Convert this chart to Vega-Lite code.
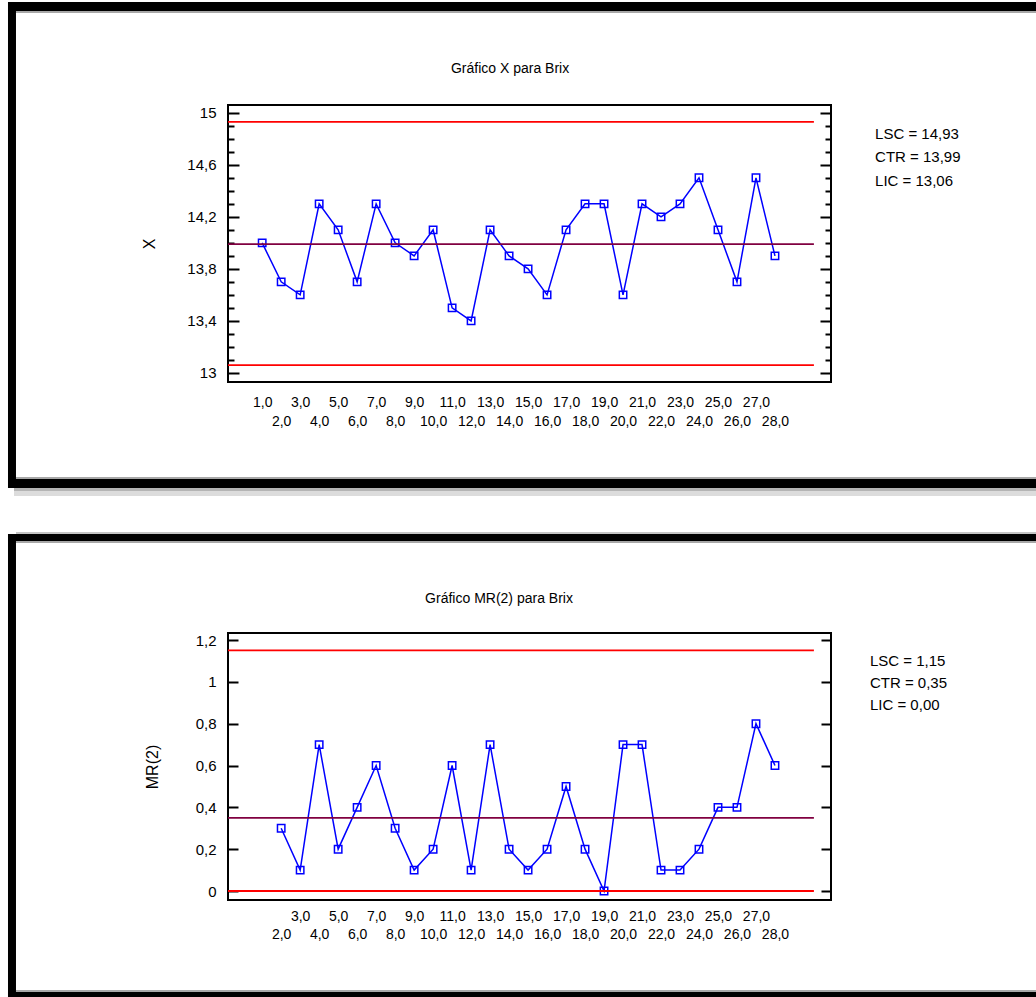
{
  "$schema": "https://vega.github.io/schema/vega-lite/v6.json",
  "padding": {"left": 6, "top": 1, "right": 0, "bottom": 0},
  "background": "white",
  "spacing": 33,
  "resolve": {"scale": {"x": "independent", "y": "independent", "color": "independent"}},
  "config": {
    "font": "Liberation Sans Narrow, Liberation Sans, sans-serif",
    "view": {"stroke": "black", "strokeWidth": 2},
    "axis": {"labelColor": "black", "titleColor": "black", "labelFontSize": 15, "titleFontSize": 16, "titleFontWeight": "normal", "tickColor": "black", "tickWidth": 2, "grid": false, "domain": false},
    "text": {"color": "black"}
  },
  "datasets": {
    "xdata": [
      {"i": 1, "x": 14.0}, {"i": 2, "x": 13.7}, {"i": 3, "x": 13.6}, {"i": 4, "x": 14.3}, {"i": 5, "x": 14.1},
      {"i": 6, "x": 13.7}, {"i": 7, "x": 14.3}, {"i": 8, "x": 14.0}, {"i": 9, "x": 13.9}, {"i": 10, "x": 14.1},
      {"i": 11, "x": 13.5}, {"i": 12, "x": 13.4}, {"i": 13, "x": 14.1}, {"i": 14, "x": 13.9}, {"i": 15, "x": 13.8},
      {"i": 16, "x": 13.6}, {"i": 17, "x": 14.1}, {"i": 18, "x": 14.3}, {"i": 19, "x": 14.3}, {"i": 20, "x": 13.6},
      {"i": 21, "x": 14.3}, {"i": 22, "x": 14.2}, {"i": 23, "x": 14.3}, {"i": 24, "x": 14.5}, {"i": 25, "x": 14.1},
      {"i": 26, "x": 13.7}, {"i": 27, "x": 14.5}, {"i": 28, "x": 13.9}
    ],
    "mrdata": [
      {"i": 2, "mr": 0.3}, {"i": 3, "mr": 0.1}, {"i": 4, "mr": 0.7}, {"i": 5, "mr": 0.2}, {"i": 6, "mr": 0.4},
      {"i": 7, "mr": 0.6}, {"i": 8, "mr": 0.3}, {"i": 9, "mr": 0.1}, {"i": 10, "mr": 0.2}, {"i": 11, "mr": 0.6},
      {"i": 12, "mr": 0.1}, {"i": 13, "mr": 0.7}, {"i": 14, "mr": 0.2}, {"i": 15, "mr": 0.1}, {"i": 16, "mr": 0.2},
      {"i": 17, "mr": 0.5}, {"i": 18, "mr": 0.2}, {"i": 19, "mr": 0.0}, {"i": 20, "mr": 0.7}, {"i": 21, "mr": 0.7},
      {"i": 22, "mr": 0.1}, {"i": 23, "mr": 0.1}, {"i": 24, "mr": 0.2}, {"i": 25, "mr": 0.4}, {"i": 26, "mr": 0.4},
      {"i": 27, "mr": 0.8}, {"i": 28, "mr": 0.6}
    ],
    "limx": [{"k": "LSC", "v": 14.93}, {"k": "CTR", "v": 13.99}, {"k": "LIC", "v": 13.06}],
    "limmr": [{"k": "LSC", "v": 1.15}, {"k": "CTR", "v": 0.35}, {"k": "LIC", "v": 0.0}]
  },
  "vconcat": [
    {
      "width": 603,
      "height": 277,
      "data": {"name": "xdata"},
      "resolve": {"axis": {"x": "independent", "y": "independent"}},
      "layer": [
        {"mark": {"type": "line", "color": "#0000ff", "strokeWidth": 1.5},
         "encoding": {
           "x": {"field": "i", "type": "quantitative", "scale": {"domain": [-0.8, 30.95], "nice": false, "zero": false},
                 "axis": {"orient": "bottom", "values": [1,2,3,4,5,6,7,8,9,10,11,12,13,14,15,16,17,18,19,20,21,22,23,24,25,26,27,28], "ticks": false, "title": null,
                          "labelExpr": "replace(format(datum.value, '.1f'), '.', ',')",
                          "labelPadding": {"condition": {"test": "datum.value % 2 == 0", "value": 32}, "value": 13},
                          "labelOverlap": false, "labelFontSize": 14, "labelAlign": "center", "labelBaseline": "top"}},
           "y": {"field": "x", "type": "quantitative", "scale": {"domain": [12.93, 15.06], "nice": false, "zero": false},
                 "axis": {"orient": "left", "title": "X", "titleX": -79, "titleY": 138.5, "titleAlign": "center", "titleBaseline": "middle", "titleAngle": -90,
                          "values": [13,13.1,13.2,13.3,13.4,13.5,13.6,13.7,13.8,13.9,14,14.1,14.2,14.3,14.4,14.5,14.6,14.7,14.8,14.9,15],
                          "tickSize": {"condition": {"test": "round(datum.value*10)%4==2", "value": -11}, "value": -6},
                          "labelExpr": "round(datum.value*10)%4==2 ? replace(toString(datum.value), '.', ',') : ''",
                          "labelPadding": 23, "labelOverlap": false, "labelBound": false}}
         }},
        {"data": {"values": [{}]}, "mark": {"type": "rect", "color": "black"},
         "encoding": {"x": {"datum": -12.384, "axis": null}, "x2": {"datum": 41.84}, "y": {"datum": 15.852, "axis": null}, "y2": {"datum": 15.7828}}},
        {"data": {"values": [{}]}, "mark": {"type": "rect", "color": "#a8a8a8"},
         "encoding": {"x": {"datum": -11.963, "axis": null}, "x2": {"datum": 41.84}, "y": {"datum": 15.7828, "axis": null}, "y2": {"datum": 15.7674}}},
        {"data": {"values": [{}]}, "mark": {"type": "rect", "color": "black"},
         "encoding": {"x": {"datum": -12.384, "axis": null}, "x2": {"datum": -11.963}, "y": {"datum": 15.852, "axis": null}, "y2": {"datum": 12.115}}},
        {"data": {"values": [{}]}, "mark": {"type": "rect", "color": "#a8a8a8"},
         "encoding": {"x": {"datum": -11.963, "axis": null}, "x2": {"datum": 41.84}, "y": {"datum": 12.1996, "axis": null}, "y2": {"datum": 12.1842}}},
        {"data": {"values": [{}]}, "mark": {"type": "rect", "color": "black"},
         "encoding": {"x": {"datum": -12.384, "axis": null}, "x2": {"datum": 41.84}, "y": {"datum": 12.1842, "axis": null}, "y2": {"datum": 12.115}}},
        {"data": {"values": [{}]}, "mark": {"type": "rect", "color": "#b4b4b4"},
         "encoding": {"x": {"datum": -12.068, "axis": null}, "x2": {"datum": 41.84}, "y": {"datum": 12.115, "axis": null}, "y2": {"datum": 12.0919}}},
        {"data": {"values": [{}]}, "mark": {"type": "rect", "color": "#dcdcdc"},
         "encoding": {"x": {"datum": -12.068, "axis": null}, "x2": {"datum": 41.84}, "y": {"datum": 12.0919, "axis": null}, "y2": {"datum": 12.0535}}},
        {"mark": {"type": "point", "shape": "square", "filled": false, "color": "#0000ff", "strokeWidth": 1.5, "size": 55, "opacity": 1},
         "encoding": {
           "x": {"field": "i", "type": "quantitative", "axis": null},
           "y": {"field": "x", "type": "quantitative",
                 "axis": {"orient": "right", "title": null, "labels": false,
                          "values": [13,13.1,13.2,13.3,13.4,13.5,13.6,13.7,13.8,13.9,14,14.1,14.2,14.3,14.4,14.5,14.6,14.7,14.8,14.9,15],
                          "tickSize": {"condition": {"test": "round(datum.value*10)%4==2", "value": -11}, "value": -6}}}
         }},
        {"data": {"name": "limx"}, "mark": {"type": "rule", "strokeWidth": 1.8},
         "encoding": {
           "x": {"datum": -0.8, "axis": null}, "x2": {"datum": 30.05},
           "y": {"field": "v", "type": "quantitative", "axis": null},
           "color": {"field": "k", "type": "nominal", "scale": {"domain": ["LSC", "CTR", "LIC"], "range": ["#ff0000", "#800040", "#ff0000"]}, "legend": null}
         }},
        {"data": {"values": [{}]}, "mark": {"type": "text", "text": "Gráfico X para Brix", "fontSize": 14, "align": "center", "baseline": "middle"},
         "encoding": {"x": {"datum": 14.05, "axis": null}, "y": {"datum": 15.337, "axis": null}}},
        {"data": {"values": [{}]}, "mark": {"type": "text", "text": ["LSC = 14,93", "CTR = 13,99", "LIC = 13,06"], "fontSize": 15, "align": "left", "baseline": "top", "lineHeight": 23.5},
         "encoding": {"x": {"datum": 33.27, "axis": null}, "y": {"datum": 14.891, "axis": null}}}
      ]
    },
    {
      "width": 603,
      "height": 267,
      "data": {"name": "mrdata"},
      "resolve": {"axis": {"x": "independent", "y": "independent"}},
      "layer": [
        {"mark": {"type": "line", "color": "#0000ff", "strokeWidth": 1.5},
         "encoding": {
           "x": {"field": "i", "type": "quantitative", "scale": {"domain": [-0.8, 30.95], "nice": false, "zero": false},
                 "axis": {"orient": "bottom", "values": [2,3,4,5,6,7,8,9,10,11,12,13,14,15,16,17,18,19,20,21,22,23,24,25,26,27,28], "ticks": false, "title": null,
                          "labelExpr": "replace(format(datum.value, '.1f'), '.', ',')",
                          "labelPadding": {"condition": {"test": "datum.value % 2 == 0", "value": 27}, "value": 9},
                          "labelOverlap": false, "labelFontSize": 14, "labelAlign": "center", "labelBaseline": "top"}},
           "y": {"field": "mr", "type": "quantitative", "scale": {"domain": [-0.043, 1.2335], "nice": false, "zero": false},
                 "axis": {"orient": "left", "title": "MR(2)", "titleX": -76, "titleY": 133.5, "titleAlign": "center", "titleBaseline": "middle", "titleAngle": -90,
                          "values": [0, 0.2, 0.4, 0.6, 0.8, 1, 1.2], "tickSize": -10,
                          "labelExpr": "replace(toString(datum.value), '.', ',')",
                          "labelPadding": 22, "labelOverlap": false, "labelBound": false}}
         }},
        {"data": {"values": [{}]}, "mark": {"type": "rect", "color": "#c4c4c4"},
         "encoding": {"x": {"datum": -11.963, "axis": null}, "x2": {"datum": 41.84}, "y": {"datum": 1.7164, "axis": null}, "y2": {"datum": 1.7068}}},
        {"data": {"values": [{}]}, "mark": {"type": "rect", "color": "black"},
         "encoding": {"x": {"datum": -12.384, "axis": null}, "x2": {"datum": 41.84}, "y": {"datum": 1.7068, "axis": null}, "y2": {"datum": 1.6733}}},
        {"data": {"values": [{}]}, "mark": {"type": "rect", "color": "#a8a8a8"},
         "encoding": {"x": {"datum": -11.963, "axis": null}, "x2": {"datum": 41.84}, "y": {"datum": 1.6733, "axis": null}, "y2": {"datum": 1.6638}}},
        {"data": {"values": [{}]}, "mark": {"type": "rect", "color": "black"},
         "encoding": {"x": {"datum": -12.384, "axis": null}, "x2": {"datum": -11.963}, "y": {"datum": 1.7068, "axis": null}, "y2": {"datum": -0.5067}}},
        {"data": {"values": [{}]}, "mark": {"type": "rect", "color": "#a8a8a8"},
         "encoding": {"x": {"datum": -11.963, "axis": null}, "x2": {"datum": 41.84}, "y": {"datum": -0.4733, "axis": null}, "y2": {"datum": -0.4828}}},
        {"data": {"values": [{}]}, "mark": {"type": "rect", "color": "black"},
         "encoding": {"x": {"datum": -12.384, "axis": null}, "x2": {"datum": 41.84}, "y": {"datum": -0.4828, "axis": null}, "y2": {"datum": -0.5067}}},
        {"mark": {"type": "point", "shape": "square", "filled": false, "color": "#0000ff", "strokeWidth": 1.5, "size": 55, "opacity": 1},
         "encoding": {
           "x": {"field": "i", "type": "quantitative", "axis": null},
           "y": {"field": "mr", "type": "quantitative",
                 "axis": {"orient": "right", "title": null, "labels": false, "values": [0, 0.2, 0.4, 0.6, 0.8, 1, 1.2], "tickSize": -10}}
         }},
        {"data": {"name": "limmr"}, "mark": {"type": "rule", "strokeWidth": 1.8},
         "encoding": {
           "x": {"datum": -0.8, "axis": null}, "x2": {"datum": 30.05},
           "y": {"field": "v", "type": "quantitative", "axis": null},
           "color": {"field": "k", "type": "nominal", "scale": {"domain": ["LSC", "CTR", "LIC"], "range": ["#ff0000", "#800040", "#ff0000"]}, "legend": null}
         }},
        {"data": {"values": [{}]}, "mark": {"type": "text", "text": "Gráfico MR(2) para Brix", "fontSize": 14, "align": "center", "baseline": "middle"},
         "encoding": {"x": {"datum": 13.47, "axis": null}, "y": {"datum": 1.396, "axis": null}}},
        {"data": {"values": [{}]}, "mark": {"type": "text", "text": ["LSC = 1,15", "CTR = 0,35", "LIC = 0,00"], "fontSize": 15, "align": "left", "baseline": "top", "lineHeight": 22},
         "encoding": {"x": {"datum": 33.0, "axis": null}, "y": {"datum": 1.1331, "axis": null}}}
      ]
    }
  ]
}
